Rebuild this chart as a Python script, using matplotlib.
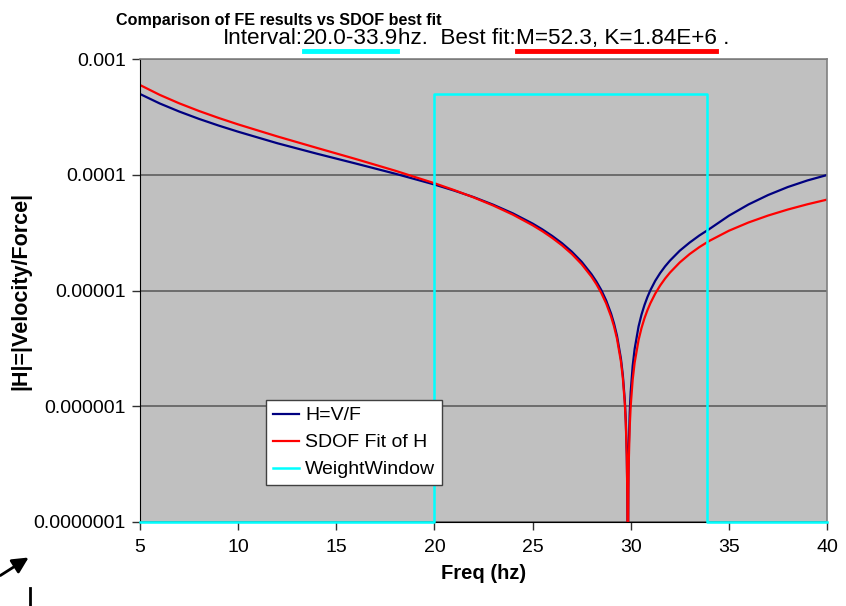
import numpy as np
import matplotlib
matplotlib.use("Agg")
import matplotlib.pyplot as plt
from matplotlib.lines import Line2D

plt.rcParams['font.family'] = ['Liberation Sans', 'DejaVu Sans']

# frequency points (Hz)
freq = [5, 6, 7, 8, 9, 10, 12, 14, 16, 18,
        20, 21, 22, 23, 24, 25,
        25.5, 26, 26.5, 27, 27.5, 28,
        28.25, 28.5, 28.75, 29, 29.15, 29.3,
        29.5, 29.6, 29.7, 29.75, 29.8, 29.83, 29.85,
        29.88, 29.9, 29.95, 30,
        30.1, 30.2, 30.4, 30.55, 30.7, 30.85, 31,
        31.25, 31.5, 31.75, 32, 32.5, 33, 33.5,
        34, 35, 36, 37, 38, 39, 40]

# |H| from the FE run
h_fe = [4.984e-4, 4.133e-4, 3.516e-4, 3.040e-4, 2.662e-4, 2.354e-4, 1.871e-4, 1.522e-4, 1.249e-4, 1.021e-4,
        8.235e-5, 7.302e-5, 6.406e-5, 5.505e-5, 4.635e-5, 3.788e-5,
        3.371e-5, 2.961e-5, 2.561e-5, 2.164e-5, 1.771e-5, 1.384e-5,
        1.196e-5, 1.010e-5, 8.196e-6, 6.309e-6, 5.186e-6, 4.068e-6,
        2.586e-6, 1.850e-6, 1.115e-6, 7.487e-7, 3.831e-7, 1.640e-7, 2.0e-8,
        2.499e-7, 4.314e-7, 8.844e-7, 1.338e-6,
        2.235e-6, 3.127e-6, 4.892e-6, 6.192e-6, 7.478e-6, 8.765e-6, 1.004e-5,
        1.213e-5, 1.415e-5, 1.615e-5, 1.812e-5, 2.208e-5, 2.593e-5, 2.990e-5,
        3.390e-5, 4.424e-5, 5.537e-5, 6.682e-5, 7.828e-5, 8.925e-5, 9.944e-5]

# |H| of the SDOF fit
h_fit = [5.960e-4, 4.904e-4, 4.139e-4, 3.558e-4, 3.097e-4, 2.722e-4, 2.142e-4, 1.708e-4, 1.366e-4, 1.084e-4,
         8.450e-5, 7.376e-5, 6.368e-5, 5.418e-5, 4.518e-5, 3.663e-5,
         3.251e-5, 2.847e-5, 2.453e-5, 2.067e-5, 1.688e-5, 1.317e-5,
         1.134e-5, 9.527e-6, 7.732e-6, 5.952e-6, 4.892e-6, 3.838e-6,
         2.440e-6, 1.745e-6, 1.052e-6, 7.063e-7, 3.614e-7, 1.547e-7, 1.7e-8,
         1.893e-7, 3.268e-7, 6.700e-7, 1.013e-6,
         1.696e-6, 2.378e-6, 3.734e-6, 4.745e-6, 5.752e-6, 6.753e-6, 7.750e-6,
         9.402e-6, 1.104e-5, 1.267e-5, 1.428e-5, 1.748e-5, 2.063e-5, 2.373e-5,
         2.680e-5, 3.282e-5, 3.869e-5, 4.443e-5, 5.005e-5, 5.557e-5, 6.097e-5]

# weighting window 20.0-33.9 Hz
win_f = [5, 20, 20, 33.9, 33.9, 40]
win_h = [1e-7, 1e-7, 5e-4, 5e-4, 1e-7, 1e-7]

xticks = [5, 10, 15, 20, 25, 30, 35, 40]
yticks = [1e-7, 1e-6, 1e-5, 1e-4, 1e-3]
ytick_labels = ['0.0000001', '0.000001', '0.00001', '0.0001', '0.001']

W, H = 846, 606
fig = plt.figure(figsize=(W / 100, H / 100), dpi=100)

def fx(x):
    return x / W

def fy(y):
    return 1 - y / H

ax = fig.add_axes([fx(140), fy(522), fx(827) - fx(140), fy(59) - fy(522)])
ax.set_facecolor('#C0C0C0')

ax.plot(freq, h_fe, color='#000080', lw=1.6, label='H=V/F')
ax.plot(freq, h_fit, color='#FF0000', lw=1.6, label='SDOF Fit of H')
ax.plot(win_f, win_h, color='#00FFFF', lw=1.8, label='WeightWindow',
        clip_on=False, zorder=5)

ax.set_yscale('log')
ax.set_xlim(5, 40)
ax.set_ylim(1e-7, 1e-3)
ax.set_xticks(xticks)
ax.set_yticks(yticks, labels=ytick_labels)
ax.minorticks_off()
ax.tick_params(axis='both', labelsize=14, length=6, width=1, color='#303030',
               direction='out', pad=4)
ax.tick_params(axis='x', pad=6)
ax.yaxis.grid(True, color='#555555', lw=1.1)
ax.set_axisbelow(True)

for side in ['top', 'right']:
    ax.spines[side].set_color('#808080')
    ax.spines[side].set_linewidth(1.2)
ax.spines['left'].set_color('black')
ax.spines['bottom'].set_color('black')

ax.set_xlabel('Freq (hz)', fontsize=14.5, fontweight='bold', labelpad=6)
ax.set_ylabel('|H|=|Velocity/Force|', fontsize=15.5, fontweight='bold', labelpad=2)

leg = ax.legend(loc='upper left', bbox_to_anchor=((266 - 140) / 687, (522 - 400) / 463),
                borderaxespad=0, fontsize=14, frameon=True, fancybox=False,
                framealpha=1, edgecolor='#404040', handlelength=1.35,
                handletextpad=0.3, labelspacing=0.48, borderpad=0.35)
leg.get_frame().set_linewidth(1.0)

# main title
fig.text(fx(116), fy(25), 'Comparison of FE results vs SDOF best fit',
         fontsize=11.6, fontweight='bold', va='baseline', ha='left')

# subtitle, with the interval and the fitted values underlined
fig.canvas.draw()
renderer = fig.canvas.get_renderer()
parts = [('Interval:', None), ('20.0-33.9', '#00FFFF'), ('hz.  Best fit:', None),
         ('M=52.3, K=1.84E+6', '#FF0000'), (' .', None)]
x = 223
for txt, ul in parts:
    t = fig.text(fx(x), fy(44), txt, fontsize=16.2, va='baseline', ha='left')
    bb = t.get_window_extent(renderer)
    if ul is not None:
        fig.add_artist(Line2D([fx(x + 1), fx(x + bb.width - 1)], [fy(51), fy(51)],
                              color=ul, lw=3.5, transform=fig.transFigure))
    x += bb.width

# arrow in the lower-left corner
fig.add_artist(plt.Annotation('', xy=(fx(31), fy(556)), xytext=(fx(-2), fy(577)),
                              xycoords='figure fraction', textcoords='figure fraction',
                              arrowprops=dict(arrowstyle='-|>', color='black', lw=2,
                                              mutation_scale=24)))
fig.add_artist(Line2D([fx(30), fx(30)], [fy(588), fy(606)], color='black', lw=2,
                      transform=fig.transFigure))

fig.savefig('out.png', dpi=100)
